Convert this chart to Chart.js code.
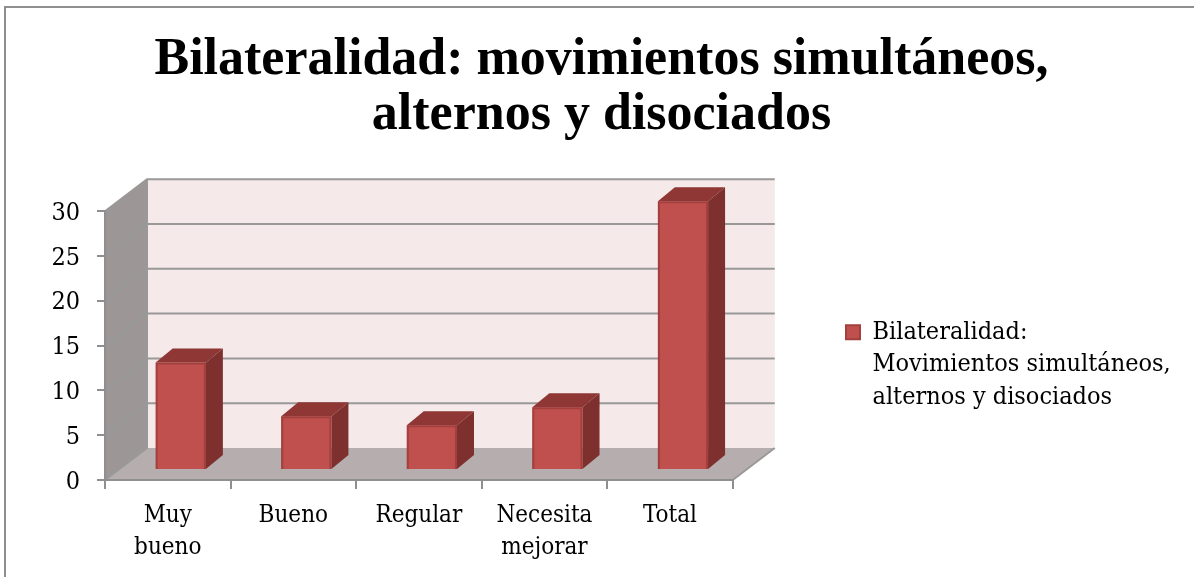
<!DOCTYPE html>
<html>
<head>
<meta charset="utf-8">
<style>
html, body { margin: 0; padding: 0; background: #fff; overflow: hidden; }
#frame { position: absolute; left: 4px; top: 6px; width: 1190px; height: 571px; box-sizing: border-box; border-left: 2px solid #8f8f8f; border-top: 2px solid #8f8f8f; }
canvas { position: absolute; left: 0; top: 0; }
</style>
</head>
<body>
<div id="frame"></div>
<canvas id="bilateralChart" width="1194" height="577"></canvas>
<script src="https://cdn.jsdelivr.net/npm/chart.js@4"></script>
<script>
const categories = [['Muy', 'bueno'], 'Bueno', 'Regular', ['Necesita', 'mejorar'], 'Total'];
const values = [12, 6, 5, 7, 30];
const yTicks = [0, 5, 10, 15, 20, 25, 30];
const titleLines = ['Bilateralidad: movimientos simultáneos,', 'alternos y disociados'];
const legendLines = ['Bilateralidad:', 'Movimientos simultáneos,', 'alternos y disociados'];

const serif = '"DejaVu Serif Condensed", "DejaVu Serif", serif';
const titleSerif = '"Liberation Serif", serif';

// 3D look of the old Excel chart
const WALL_DX = 42, WALL_DY = -32;
const BAR_DX = 13, BAR_DY = -10;
const DEPTH_DX = 17, DEPTH_DY = -14;

function poly(ctx, pts, fill) {
    ctx.beginPath();
    pts.forEach((p, i) => i ? ctx.lineTo(p[0], p[1]) : ctx.moveTo(p[0], p[1]));
    ctx.closePath();
    ctx.fillStyle = fill;
    ctx.fill();
}

function line(ctx, pts, color, width) {
    ctx.beginPath();
    pts.forEach((p, i) => i ? ctx.lineTo(p[0], p[1]) : ctx.moveTo(p[0], p[1]));
    ctx.strokeStyle = color;
    ctx.lineWidth = width;
    ctx.stroke();
}

const depthPlugin = {
    id: 'depth',
    afterLayout(chart) {
        // legend and title sit apart from the plot, so move them after the layout pass
        const lg = chart.legend;
        const dx = 836 - lg.left, dy = 80;
        lg.left += dx;
        lg.right = 1194;
        lg.top += dy;
        lg.bottom += dy;
        chart.titleBlock.left = 9;
        chart.titleBlock.right = 1194;
    },
    beforeDraw(chart) {
        const ctx = chart.ctx, y = chart.scales.y, a = chart.chartArea;
        const l = a.left, r = a.right;
        const y0 = y.getPixelForValue(0), yMax = y.getPixelForValue(30);
        ctx.save();
        // back wall, side wall, floor
        poly(ctx, [[l + WALL_DX, yMax + WALL_DY], [r + WALL_DX, yMax + WALL_DY], [r + WALL_DX, y0 + WALL_DY], [l + WALL_DX, y0 + WALL_DY]], '#f5e9e9');
        poly(ctx, [[l, yMax], [l + WALL_DX, yMax + WALL_DY], [l + WALL_DX, y0 + WALL_DY], [l, y0]], '#9c9796');
        poly(ctx, [[l, y0], [l + WALL_DX, y0 + WALL_DY], [r + WALL_DX, y0 + WALL_DY], [r, y0]], '#b6aeae');
        yTicks.forEach(v => {
            const py = y.getPixelForValue(v);
            if (v > 0) {
                line(ctx, [[l, py], [l + WALL_DX, py + WALL_DY], [r + WALL_DX, py + WALL_DY]], '#999999', 2);
            }
        });
        line(ctx, [[l + WALL_DX, yMax + WALL_DY], [l + WALL_DX, y0 + WALL_DY], [l, y0]], '#999999', 2);
        line(ctx, [[r, y0], [r + WALL_DX, y0 + WALL_DY]], '#999999', 2);
        ctx.restore();
    },
    beforeDatasetDraw(chart, args) {
        const ctx = chart.ctx;
        ctx.save();
        ctx.translate(BAR_DX, BAR_DY);
        args.meta.data.forEach(bar => {
            const left = bar.x - bar.width / 2, right = bar.x + bar.width / 2;
            const top = bar.y, base = bar.base;
            poly(ctx, [[left, top], [left + DEPTH_DX, top + DEPTH_DY], [right + DEPTH_DX, top + DEPTH_DY], [right, top]], '#8f3735');
            poly(ctx, [[right, top], [right + DEPTH_DX, top + DEPTH_DY], [right + DEPTH_DX, base + DEPTH_DY], [right, base]], '#7d302e');
            // underlay so the border ring leaves no pale seam
            poly(ctx, [[left, top], [right, top], [right, base], [left, base]], '#a33f3c');
        });
    },
    afterDatasetDraw(chart) {
        chart.ctx.restore();
    }
};

new Chart(document.getElementById('bilateralChart'), {
    type: 'bar',
    data: {
        labels: categories,
        datasets: [{
            label: legendLines,
            data: values,
            backgroundColor: '#c0504d',
            borderColor: '#a33f3c',
            borderWidth: 2,
            categoryPercentage: 1,
            barPercentage: 0.4
        }]
    },
    options: {
        responsive: false,
        animation: false,
        layout: { padding: { left: 9, right: 220, top: 0, bottom: 0 } },
        plugins: {
            tooltip: { enabled: false },
            title: {
                display: true,
                text: titleLines,
                color: '#000',
                font: { family: titleSerif, size: 52, weight: 'bold', lineHeight: 1.06 },
                padding: { top: 33, bottom: 68 }
            },
            legend: {
                position: 'right',
                labels: {
                    color: '#000',
                    font: { family: serif, size: 25, lineHeight: 1.3 },
                    boxWidth: 14,
                    boxHeight: 14,
                    generateLabels(chart) {
                        return [{
                            text: legendLines,
                            fillStyle: '#c0504d',
                            strokeStyle: '#a33f3c',
                            lineWidth: 2,
                            datasetIndex: 0
                        }];
                    }
                }
            }
        },
        scales: {
            x: {
                afterFit(s) { s.height = 97; },
                border: { color: '#8f8f8f', width: 2 },
                grid: { drawOnChartArea: false, drawTicks: true, tickLength: 9, color: '#8f8f8f', lineWidth: 2, offset: true },
                ticks: { color: '#000', font: { family: serif, size: 24, lineHeight: 1.34 }, padding: 11, maxRotation: 0, autoSkip: false }
            },
            y: {
                min: 0,
                max: 30,
                afterFit(s) { s.width = 96; },
                afterBuildTicks(s) { s.ticks = yTicks.map(v => ({ value: v })); },
                border: { color: '#8f8f8f', width: 2 },
                grid: { drawOnChartArea: false, drawTicks: true, tickLength: 8, color: '#8f8f8f', lineWidth: 2 },
                ticks: { color: '#000', font: { family: serif, size: 25 }, padding: 17, labelOffset: 2 }
            }
        }
    },
    plugins: [depthPlugin]
});
</script>
</body>
</html>
